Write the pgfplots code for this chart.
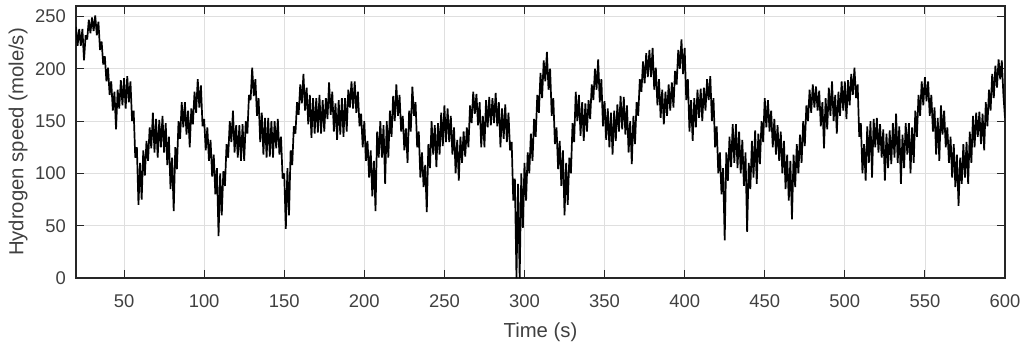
\documentclass[border=0pt]{standalone}
\usepackage{fontspec}
\setmainfont{Liberation Sans}
\usepackage{pgfplots}
\pgfplotsset{compat=1.18}
\definecolor{cText}{HTML}{404040}
\definecolor{cAxis}{HTML}{262626}
\definecolor{cGrid}{HTML}{DFDFDF}
\begin{document}
\begin{tikzpicture}
  \path[use as bounding box] (-76pt,-71pt) rectangle (948pt,278pt);
  \begin{axis}[
    at={(0,0)}, anchor=south west,
    scale only axis, width=929pt, height=272pt,
    xmin=20, xmax=600, ymin=0, ymax=260,
    xtick={50,100,...,600}, ytick={0,50,...,250},
    tick pos=both, tick align=inside, major tick length=8pt,
    tick style={cAxis, line width=0.9pt},
    axis line style={cAxis, line width=1.2pt},
    grid=major, major grid style={cGrid, line width=0.8pt},
    /pgf/number format/assume math mode=true,
    ticklabel style={font=\fontsize{18.4}{22}\selectfont, text=cText},
    xticklabel style={anchor=base, yshift=-29pt, inner sep=0pt},
    yticklabel style={anchor=east, xshift=-10pt, inner sep=0pt},
    xlabel={Time (s)}, ylabel={Hydrogen speed (mole/s)},
    label style={font=\fontsize{20.3}{24}\selectfont, text=cText},
    xlabel style={at={(axis description cs:0.5,0)}, anchor=base, yshift=-59pt},
    ylabel style={at={(axis description cs:-0.0624,0.5)}, anchor=center, rotate=0},
  ]
    % hydrogen flow trace at 1 s steps
    \addplot[black, line width=1.7pt, line join=miter, miter limit=2] coordinates {
      (20,240)(21,222)(22,238)(23,222)(24,238)(25,208)(26,232)(27,228)(28,247)(29,234)
      (30,249)(31,236)(32,251)(33,232)(34,245)(35,218)(36,226)(37,204)(38,212)(39,188)
      (40,201)(41,175)(42,188)(43,160)(44,178)(45,142)(46,180)(47,162)(48,189)(49,165)
      (50,191)(51,162)(52,193)(53,168)(54,188)(55,150)(56,160)(57,115)(58,125)(59,70)
      (60,110)(61,75)(62,122)(63,98)(64,131)(65,112)(66,144)(67,124)(68,158)(69,120)
      (70,152)(71,115)(72,151)(73,125)(74,155)(75,120)(76,148)(77,108)(78,135)(79,85)
      (80,115)(81,64)(82,125)(83,104)(84,150)(85,133)(86,168)(87,144)(88,168)(89,137)
      (90,160)(91,125)(92,162)(93,147)(94,178)(95,158)(96,190)(97,163)(98,184)(99,145)
      (100,152)(101,122)(102,144)(103,112)(104,132)(105,97)(106,118)(107,80)(108,105)(109,40)
      (110,100)(111,60)(112,102)(113,88)(114,128)(115,115)(116,150)(117,130)(118,160)(119,120)
      (120,146)(121,115)(122,146)(123,112)(124,147)(125,112)(126,150)(127,138)(128,175)(129,170)
      (130,201)(131,174)(132,190)(133,155)(134,172)(135,130)(136,158)(137,118)(138,153)(139,115)
      (140,153)(141,116)(142,150)(143,115)(144,150)(145,124)(146,152)(147,118)(148,135)(149,95)
      (150,100)(151,47)(152,105)(153,60)(154,122)(155,108)(156,145)(157,138)(158,168)(159,156)
      (160,185)(161,167)(162,195)(163,160)(164,182)(165,147)(166,175)(167,134)(168,172)(169,138)
      (170,172)(171,139)(172,175)(173,138)(174,170)(175,140)(176,172)(177,152)(178,187)(179,156)
      (180,178)(181,140)(182,167)(183,132)(184,170)(185,137)(186,172)(187,135)(188,172)(189,140)
      (190,180)(191,163)(192,188)(193,162)(194,188)(195,158)(196,178)(197,145)(198,157)(199,125)
      (200,150)(201,112)(202,131)(203,96)(204,122)(205,78)(206,112)(207,64)(208,140)(209,115)
      (210,150)(211,115)(212,146)(213,90)(214,150)(215,115)(216,160)(217,135)(218,174)(219,150)
      (220,185)(221,155)(222,175)(223,140)(224,155)(225,122)(226,143)(227,110)(228,160)(229,140)
      (230,183)(231,155)(232,168)(233,125)(234,140)(235,96)(236,120)(237,87)(238,108)(239,63)
      (240,128)(241,105)(242,150)(243,118)(244,146)(245,106)(246,148)(247,118)(248,158)(249,126)
      (250,165)(251,130)(252,162)(253,130)(254,155)(255,118)(256,144)(257,100)(258,132)(259,93)
      (260,135)(261,110)(262,140)(263,116)(264,144)(265,125)(266,165)(267,148)(268,178)(269,157)
      (270,176)(271,146)(272,168)(273,125)(274,155)(275,125)(276,170)(277,144)(278,173)(279,146)
      (280,172)(281,148)(282,177)(283,145)(284,168)(285,125)(286,162)(287,133)(288,166)(289,130)
      (290,158)(291,122)(292,130)(293,74)(294,95)(295,0)(296,90)(297,0)(298,100)(299,48)
      (300,110)(301,74)(302,120)(303,100)(304,138)(305,112)(306,152)(307,135)(308,175)(309,158)
      (310,196)(311,172)(312,208)(313,188)(314,216)(315,180)(316,200)(317,155)(318,172)(319,128)
      (320,144)(321,104)(322,131)(323,88)(324,122)(325,60)(326,110)(327,70)(328,115)(329,100)
      (330,148)(331,130)(332,178)(333,150)(334,175)(335,136)(336,168)(337,131)(338,167)(339,140)
      (340,170)(341,152)(342,185)(343,170)(344,200)(345,180)(346,209)(347,168)(348,190)(349,145)
      (350,169)(351,132)(352,162)(353,125)(354,158)(355,118)(356,160)(357,131)(358,166)(359,140)
      (360,174)(361,142)(362,173)(363,137)(364,165)(365,120)(366,150)(367,109)(368,155)(369,128)
      (370,168)(371,155)(372,190)(373,178)(374,207)(375,186)(376,215)(377,192)(378,218)(379,192)
      (380,220)(381,180)(382,201)(383,165)(384,190)(385,153)(386,180)(387,147)(388,178)(389,155)
      (390,185)(391,160)(392,187)(393,163)(394,198)(395,185)(396,218)(397,200)(398,228)(399,195)
      (400,220)(401,170)(402,190)(403,140)(404,170)(405,131)(406,172)(407,144)(408,180)(409,153)
      (410,181)(411,150)(412,182)(413,160)(414,190)(415,170)(416,193)(417,150)(418,172)(419,125)
      (420,145)(421,100)(422,120)(423,80)(424,105)(425,36)(426,120)(427,93)(428,135)(429,106)
      (430,147)(431,110)(432,147)(433,105)(434,140)(435,100)(436,132)(437,88)(438,120)(439,44)
      (440,110)(441,85)(442,131)(443,96)(444,141)(445,90)(446,138)(447,109)(448,150)(449,130)
      (450,172)(451,144)(452,170)(453,140)(454,160)(455,125)(456,152)(457,118)(458,146)(459,112)
      (460,140)(461,100)(462,131)(463,85)(464,118)(465,74)(466,112)(467,56)(468,118)(469,87)
      (470,128)(471,100)(472,137)(473,110)(474,150)(475,126)(476,165)(477,150)(478,180)(479,158)
      (480,185)(481,163)(482,183)(483,160)(484,179)(485,145)(486,168)(487,124)(488,172)(489,142)
      (490,182)(491,155)(492,188)(493,150)(494,175)(495,138)(496,178)(497,155)(498,188)(499,160)
      (500,188)(501,152)(502,189)(503,165)(504,195)(505,175)(506,201)(507,172)(508,185)(509,135)
      (510,148)(511,100)(512,128)(513,93)(514,145)(515,110)(516,150)(517,96)(518,152)(519,125)
      (520,153)(521,120)(522,147)(523,115)(524,142)(525,93)(526,138)(527,105)(528,141)(529,109)
      (530,148)(531,115)(532,157)(533,110)(534,145)(535,90)(536,137)(537,105)(538,148)(539,118)
      (540,148)(541,100)(542,144)(543,110)(544,160)(545,135)(546,175)(547,155)(548,188)(549,165)
      (550,192)(551,169)(552,188)(553,155)(554,175)(555,140)(556,163)(557,118)(558,153)(559,112)
      (560,165)(561,137)(562,160)(563,125)(564,144)(565,110)(566,135)(567,96)(568,128)(569,87)
      (570,118)(571,69)(572,115)(573,90)(574,128)(575,96)(576,130)(577,90)(578,140)(579,110)
      (580,155)(581,125)(582,158)(583,135)(584,159)(585,128)(586,157)(587,122)(588,168)(589,145)
      (590,180)(591,160)(592,195)(593,172)(594,203)(595,182)(596,209)(597,190)(598,208)(599,175)
      (600,153)
    };
  \end{axis}
\end{tikzpicture}
\end{document}
